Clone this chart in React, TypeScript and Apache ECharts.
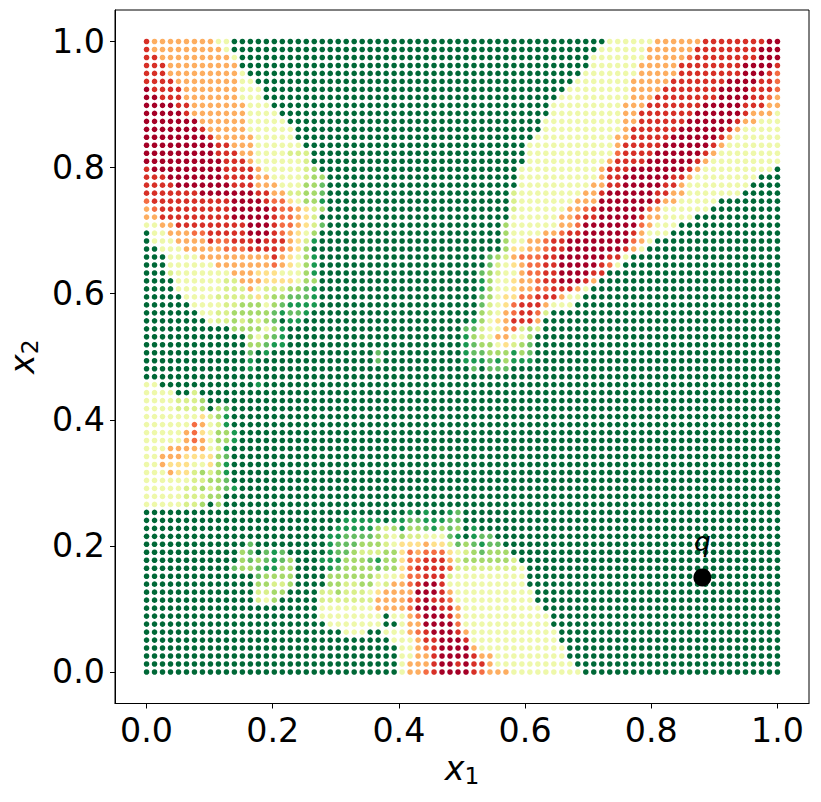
import React, { useEffect, useRef } from "react";
import * as echarts from "echarts";

const Z = "0000000000";
const gridSize = 80;
const tickValues = [0, 0.2, 0.4, 0.6, 0.8, 1.0];
const queryPoint = [0.881, 0.15];
const queryLabel = "q";
const xName = "x";
const yName = "x";
const levelColors: Record<string, string> = {
  "0": "#006837", "1": "#1a9850", "2": "#66bd63", "3": "#a6d96a", "4": "#d9ef8b",
  "5": "#eef8aa", "6": "#fee08b", "7": "#fdae61", "8": "#f46d43", "9": "#d73027", a: "#a50026",
};
// rows from x2 = 1 (top) to x2 = 0 (bottom), one char per point, groups of ten
const rows = [
  `9777777775 5000000000 ${Z} ${Z} ${Z} 0000000055 5555777777 99999999aa`,
  `9777777777 5000000000 ${Z} ${Z} ${Z} 0000000555 5557777779 9999999aaa`,
  `9977777777 7500000000 ${Z} ${Z} ${Z} 0000005555 5557777789 9999999aaa`,
  `9997777777 7700000000 ${Z} ${Z} ${Z} 0000005555 5577777999 99999aaaa9`,
  `9997777777 7750000000 ${Z} ${Z} ${Z} 0000055555 5577777999 99999aaa98`,
  `9999777777 7755000000 ${Z} ${Z} ${Z} 0000555555 5777779999 999aaaa998`,
  `a999977777 7755500000 ${Z} ${Z} ${Z} 0005555555 5777799999 99aaaa9998`,
  `aa99977777 7755500000 ${Z} ${Z} ${Z} 0055555555 5777999999 99aaaa9987`,
  `aaaa997777 7775550000 ${Z} ${Z} ${Z} 0555555555 7779999999 aaaaa99977`,
  `aaaaa97777 7775555000 ${Z} ${Z} ${Z} 0555555555 779999999a aaaaa97775`,
  `aaaaaaa777 7775555500 ${Z} ${Z} ${Z} 5555555555 77999999aa aaaa977555`,
  `aaaaaaa977 7775555550 ${Z} ${Z} ${Z} 5555555555 7999999aaa aaa9755555`,
  `aaaaaaaa97 7777555550 ${Z} ${Z} 0000000005 5555555557 799999aaaa aa97555555`,
  `aaaaaaaaa9 9777555555 ${Z} ${Z} 0000000055 5555555557 99999aaaaa a975555555`,
  `aaaaaaaaa9 9977555544 4000000000 ${Z} 0000000055 5555555558 9999aaaaaa 9755555555`,
  `aaaaaaaaaa 9997555555 4000000000 ${Z} 0000000055 5555555579 999aaaaaa9 7555555555`,
  `9aaaaaaaaa 9999755555 4300000000 ${Z} 0000000555 5555555799 9aaaaaaa97 5555555550`,
  `999aaaaaaa 9999775555 4330000000 ${Z} 0000000555 5555555799 aaaaaa9975 5555555000`,
  `9999aaaaaa a999777555 3320000000 ${Z} 0000000555 5555557799 aaaaa99755 5555550000`,
  `9999999aaa aaaa997744 3320000000 ${Z} 0000004555 55555779aa aaaa997755 5555500000`,
  `8999999999 9aaaa98865 3310000000 ${Z} 0000004555 5555777aaa aaaa977555 5500000000`,
  `7899999999 9aaaaa9887 6430000000 ${Z} 0000004555 5557789aaa aaa8755555 5000000000`,
  `7799999999 9aaaaa9887 6400000000 ${Z} 0000005555 5577899aaa aa97755550 ${Z}`,
  `5577999999 999aaa9887 6420000000 ${Z} 0000035555 55778aaaaa aa87555000 ${Z}`,
  `0557778899 999aaa9876 5300000000 ${Z} 0000035555 77899aaaaa a975550000 ${Z}`,
  `0555777798 8999a99976 4100000000 ${Z} 0000035577 899aaaaaaa a875000000 ${Z}`,
  `0055577777 8889999876 3000000000 ${Z} 0000036677 899aaaaaaa 9750000000 ${Z}`,
  `0005555777 7777779765 3100000000 ${Z} 0002347888 99aaaaaa99 5000000000 ${Z}`,
  `0005555557 7777778765 3100000000 ${Z} 0002456788 99aaaaa985 ${Z} ${Z}`,
  `0004555555 5777666555 3100000000 ${Z} 0023455788 99aaaa9900 ${Z} ${Z}`,
  `0000555555 4477766665 3300000000 ${Z} 0013556778 99aaa97000 ${Z} ${Z}`,
  `0000555555 4447544433 2100000000 ${Z} 0013556778 8999750000 ${Z} ${Z}`,
  `0000055554 4444643322 2100000000 ${Z} 0023566889 9975500000 ${Z} ${Z}`,
  `0000005555 4433353211 1100000000 ${Z} 0024568999 7555000000 ${Z} ${Z}`,
  `0000000554 4333332122 1000000000 ${Z} 0034578998 4000000000 ${Z} ${Z}`,
  `0000000054 4343432011 ${Z} ${Z} 0135679997 ${Z} ${Z} ${Z}`,
  `${Z} 0333353100 ${Z} ${Z} 2245578434 ${Z} ${Z} ${Z}`,
  `${Z} 0003532100 ${Z} ${Z} 1345775530 ${Z} ${Z} ${Z}`,
  `${Z} 0003321100 ${Z} ${Z} 1233564320 ${Z} ${Z} ${Z}`,
  `${Z} 0002010000 0000000002 ${Z} 1223331320 ${Z} ${Z} ${Z}`,
  `${Z} 0001000000 0000000002 ${Z} 1112131110 ${Z} ${Z} ${Z}`,
  `${Z} 0001000000 ${Z} ${Z} 0202220000 ${Z} ${Z} ${Z}`,
  ``,
  `5500000000 0000100000`,
  `5555004000`,
  `5555444300`,
  `5555444303 2000000000`,
  `5555555643 1000000000`,
  `5555558754 1000000000`,
  `5555578653 3100000000`,
  `5555578753 3100000000`,
  `5557777754 1000000000`,
  `5577766663 2000000000`,
  `5576665563 1000000000`,
  `5557664343 1000000000`,
  `5555554433 2000000000`,
  `5555544343 2100000000`,
  `5555544433`,
  `5555544303`,
  `${Z} ${Z} ${Z} 0001010012`,
  `${Z} ${Z} 0000011111 0112211122`,
  `${Z} ${Z} 0000111113 4313321323 0100000000`,
  `${Z} ${Z} 0001122223 4534455521 0122000000`,
  `${Z} 0002000000 0001222333 4566676642 3212200000`,
  `${Z} 0032021200 0001223444 3368788865 4323330000`,
  `${Z} 0032321230 0011133321 3368899974 3333334000`,
  `${Z} 0233211330 0001233332 3368999984 4444444500`,
  `${Z} 0000233330 0003333334 5568899945 5555555500`,
  `${Z} 0000334430 0003344335 47789aa955 5555555500`,
  `${Z} 0000443300 0044344456 7777aaa975 5555555550`,
  `${Z} 0000453000 0044444447 77789a9985 5555555550`,
  `${Z} ${Z} 0055555557 7778aaa997 5555555555`,
  `${Z} ${Z} 0055555555 05578aaa97 5555555555 5000000000`,
  `${Z} ${Z} 0005555555 00577aaaa8 5555555555 5000000000`,
  `${Z} ${Z} 0000055500 555789aaa9 7555555555 5500000000`,
  `${Z} ${Z} ${Z} 0555799aaa 9555555555 5500000000`,
  `${Z} ${Z} ${Z} 0055789aaa a755555555 5550000000`,
  `${Z} ${Z} ${Z} 0055779aaa a977555555 5550000000`,
  `${Z} ${Z} ${Z} 0057779aa9 a997555555 5555000000`,
  `${Z} ${Z} ${Z} 0057789aaa a987775555 5555500000`,
];

const fontFamily = "'DejaVu Sans'";

export default function App() {
  const ref = useRef<HTMLDivElement>(null);
  useEffect(() => {
    const chart = echarts.init(ref.current!, undefined, { renderer: "svg" });
    const step = 1 / (gridSize - 1);
    const points: any[] = [];
    rows.forEach((raw, r) => {
      const row = raw.replace(/\s/g, "").padEnd(gridSize, "0");
      for (let c = 0; c < gridSize; c++) {
        points.push({
          value: [c * step, 1 - r * step],
          itemStyle: { color: levelColors[row[c]], opacity: 1 },
        });
      }
    });
    const axisCommon = {
      type: "value" as const,
      min: -0.05,
      max: 1.05,
      splitLine: { show: false },
      axisLine: { show: true, onZero: false, lineStyle: { color: "#000", width: 1 } },
      axisTick: { show: true, length: 5, customValues: tickValues, lineStyle: { color: "#000", width: 1 } },
      axisLabel: {
        show: true,
        color: "#000",
        fontSize: 33.3,
        fontFamily,
        customValues: tickValues,
        formatter: (v: number) => v.toFixed(1),
        margin: 10,
      },
      nameLocation: "middle" as const,
      nameTextStyle: {
        rich: {
          i: { fontFamily, fontStyle: "italic", fontSize: 33.3, color: "#000" },
          s: { fontFamily, fontSize: 23.3, color: "#000", verticalAlign: "bottom", padding: [14, 0, 0, 0] },
        },
      },
    };
    chart.setOption({
      animation: false,
      grid: {
        left: 115, top: 10, width: 694, height: 693.5,
        outerBoundsMode: "none",
        show: true, borderColor: "#000", borderWidth: 1, backgroundColor: "transparent",
      },
      xAxis: { ...axisCommon, name: `{i|${xName}}{s|1}`, nameGap: 46 },
      yAxis: { ...axisCommon, name: `{i|${yName}}{s|2}`, nameGap: 72 },
      series: [
        {
          type: "scatter",
          symbolSize: 5.6,
          silent: true,
          data: points,
          z: 2,
        },
        {
          type: "scatter",
          symbolSize: 18,
          silent: true,
          itemStyle: { color: "#000", opacity: 1 },
          data: [queryPoint],
          z: 3,
          label: {
            show: true,
            position: "top",
            distance: 13,
            formatter: queryLabel,
            color: "#000",
            fontFamily,
            fontStyle: "italic",
            fontSize: 26,
          },
        },
      ],
    });
    return () => chart.dispose();
  }, []);
  return <div ref={ref} style={{ position: "absolute", left: 0, top: 0, width: 821, height: 802 }} />;
}
